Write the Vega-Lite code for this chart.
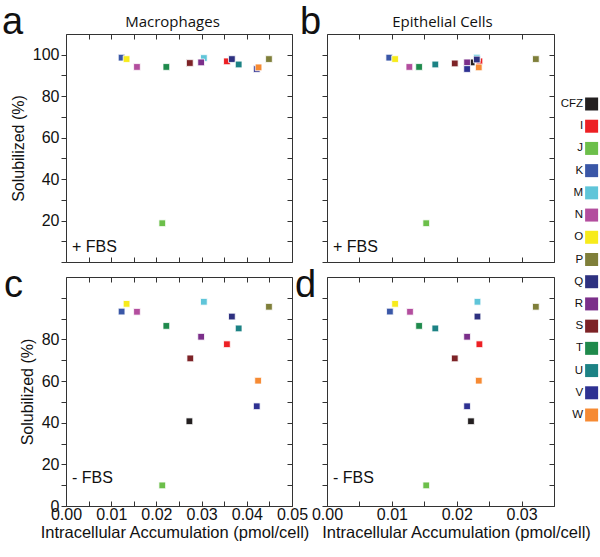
{
  "$schema": "https://vega.github.io/schema/vega-lite/v6.json",
  "padding": {"left": 2, "top": 3, "right": 0, "bottom": 0},
  "columns": 2,
  "spacing": {"row": 15, "column": 35},
  "bounds": "flush",
  "config": {
    "view": {"stroke": null},
    "axis": {"grid": false, "domainColor": "#333", "tickColor": "#333", "labelColor": "#111", "titleColor": "#111", "labelFont": "Liberation Sans", "titleFont": "Liberation Sans", "titleFontWeight": "normal", "labelOverlap": false, "labelFlush": false, "labelBound": false, "domainWidth": 1, "tickWidth": 1, "labelFontSize": 16, "titleFontSize": 16},
    "title": {"font": "Liberation Sans", "fontWeight": "normal", "fontSize": 38, "anchor": "start", "frame": "group", "color": "#111"}
  },
  "data": {"values": [
    {"panel": "a", "compound": "CFZ", "x": 0.0273, "y": 96.0},
    {"panel": "a", "compound": "I", "x": 0.0356, "y": 96.8},
    {"panel": "a", "compound": "J", "x": 0.0213, "y": 18.7},
    {"panel": "a", "compound": "K", "x": 0.0123, "y": 98.6},
    {"panel": "a", "compound": "M", "x": 0.0305, "y": 98.4},
    {"panel": "a", "compound": "N", "x": 0.0157, "y": 94.1},
    {"panel": "a", "compound": "O", "x": 0.0134, "y": 97.9},
    {"panel": "a", "compound": "P", "x": 0.0449, "y": 97.9},
    {"panel": "a", "compound": "Q", "x": 0.0367, "y": 97.9},
    {"panel": "a", "compound": "R", "x": 0.0299, "y": 96.3},
    {"panel": "a", "compound": "S", "x": 0.0274, "y": 96.0},
    {"panel": "a", "compound": "T", "x": 0.0222, "y": 94.1},
    {"panel": "a", "compound": "U", "x": 0.0382, "y": 95.3},
    {"panel": "a", "compound": "V", "x": 0.0422, "y": 93.1},
    {"panel": "a", "compound": "W", "x": 0.0426, "y": 93.9},
    {"panel": "b", "compound": "CFZ", "x": 0.0223, "y": 96.3},
    {"panel": "b", "compound": "I", "x": 0.0235, "y": 96.8},
    {"panel": "b", "compound": "J", "x": 0.0153, "y": 18.7},
    {"panel": "b", "compound": "K", "x": 0.0096, "y": 98.6},
    {"panel": "b", "compound": "M", "x": 0.0231, "y": 98.6},
    {"panel": "b", "compound": "N", "x": 0.0127, "y": 94.1},
    {"panel": "b", "compound": "O", "x": 0.0105, "y": 97.9},
    {"panel": "b", "compound": "P", "x": 0.0322, "y": 97.9},
    {"panel": "b", "compound": "Q", "x": 0.0231, "y": 97.7},
    {"panel": "b", "compound": "R", "x": 0.0216, "y": 96.3},
    {"panel": "b", "compound": "S", "x": 0.0197, "y": 95.8},
    {"panel": "b", "compound": "T", "x": 0.0142, "y": 94.1},
    {"panel": "b", "compound": "U", "x": 0.0167, "y": 95.3},
    {"panel": "b", "compound": "V", "x": 0.0216, "y": 93.1},
    {"panel": "b", "compound": "W", "x": 0.0234, "y": 93.9},
    {"panel": "c", "compound": "CFZ", "x": 0.0273, "y": 40.7},
    {"panel": "c", "compound": "I", "x": 0.0356, "y": 77.7},
    {"panel": "c", "compound": "J", "x": 0.0213, "y": 9.9},
    {"panel": "c", "compound": "K", "x": 0.0123, "y": 93.4},
    {"panel": "c", "compound": "M", "x": 0.0305, "y": 98.1},
    {"panel": "c", "compound": "N", "x": 0.0157, "y": 93.3},
    {"panel": "c", "compound": "O", "x": 0.0134, "y": 97.1},
    {"panel": "c", "compound": "P", "x": 0.0449, "y": 95.7},
    {"panel": "c", "compound": "Q", "x": 0.0367, "y": 91.0},
    {"panel": "c", "compound": "R", "x": 0.0299, "y": 81.3},
    {"panel": "c", "compound": "S", "x": 0.0275, "y": 70.9},
    {"panel": "c", "compound": "T", "x": 0.0222, "y": 86.5},
    {"panel": "c", "compound": "U", "x": 0.0382, "y": 85.3},
    {"panel": "c", "compound": "V", "x": 0.0422, "y": 47.9},
    {"panel": "c", "compound": "W", "x": 0.0425, "y": 60.2},
    {"panel": "d", "compound": "CFZ", "x": 0.0222, "y": 40.7},
    {"panel": "d", "compound": "I", "x": 0.0235, "y": 77.7},
    {"panel": "d", "compound": "J", "x": 0.0153, "y": 9.9},
    {"panel": "d", "compound": "K", "x": 0.0097, "y": 93.4},
    {"panel": "d", "compound": "M", "x": 0.0232, "y": 98.1},
    {"panel": "d", "compound": "N", "x": 0.0128, "y": 93.3},
    {"panel": "d", "compound": "O", "x": 0.0105, "y": 97.1},
    {"panel": "d", "compound": "P", "x": 0.0322, "y": 95.7},
    {"panel": "d", "compound": "Q", "x": 0.0232, "y": 91.0},
    {"panel": "d", "compound": "R", "x": 0.0216, "y": 81.3},
    {"panel": "d", "compound": "S", "x": 0.0197, "y": 70.9},
    {"panel": "d", "compound": "T", "x": 0.0142, "y": 86.5},
    {"panel": "d", "compound": "U", "x": 0.0167, "y": 85.3},
    {"panel": "d", "compound": "V", "x": 0.0216, "y": 47.9},
    {"panel": "d", "compound": "W", "x": 0.0234, "y": 60.2}
  ]},
  "concat": [
    {
      "width": 226, "height": 228,
      "title": {"text": "a", "dx": -64, "baseline": "alphabetic", "offset": 0, "dy": 57},
      "layer": [
        {
          "transform": [{"filter": "datum.panel == 'a'"}],
          "mark": {"type": "point", "shape": "square", "filled": true, "size": 45, "opacity": 1, "stroke": "white", "strokeWidth": 0.8},
          "encoding": {
            "x": {"field": "x", "type": "quantitative", "scale": {"domain": [0, 0.05], "nice": false, "zero": false}, "axis": {"orient": "bottom", "values": [0, 0.005, 0.01, 0.015, 0.02, 0.025, 0.03, 0.035, 0.04, 0.045, 0.05], "tickSize": -5, "labels": false, "title": null}},
            "y": {"field": "y", "type": "quantitative", "scale": {"domain": [0, 110], "nice": false}, "axis": {"orient": "left", "values": [0, 10, 20, 30, 40, 50, 60, 70, 80, 90, 100], "tickSize": 5, "labelPadding": 2, "labelExpr": "datum.value % 20 == 0 && datum.value > 0 ? datum.label : ''", "title": "Solubilized (%)", "titlePadding": 6}},
            "color": {"field": "compound", "type": "nominal", "legend": null, "scale": {"domain": ["CFZ", "I", "J", "K", "M", "N", "O", "P", "Q", "R", "S", "T", "U", "V", "W"], "range": ["#231f20", "#ed2024", "#6cbf4a", "#3a57a7", "#5fc5d9", "#b34e9e", "#f7eb1b", "#7f7f3a", "#2e3180", "#7b2f8a", "#7d2327", "#1f8a4c", "#1c8284", "#2e3192", "#f68a33"]}}
          }
        },
        {
          "data": {"values": [{"t": "+ FBS"}]},
          "mark": {"type": "text", "align": "left", "baseline": "middle", "fontSize": 16, "font": "Liberation Sans", "dx": 6, "color": "#111"},
          "encoding": {
            "x": {"datum": 0, "type": "quantitative", "scale": {"domain": [0, 0.05], "nice": false, "zero": false}, "axis": {"orient": "top", "values": [0, 0.005, 0.01, 0.015, 0.02, 0.025, 0.03, 0.035, 0.04, 0.045, 0.05], "tickSize": -5, "labels": false, "title": "Macrophages", "titleFont": "Open Sans", "titleFontSize": 15, "titlePadding": 4, "titleX": 106}},
            "y": {"datum": 7.2, "type": "quantitative", "scale": {"domain": [0, 110], "nice": false}, "axis": {"orient": "right", "values": [0, 10, 20, 30, 40, 50, 60, 70, 80, 90, 100], "tickSize": -5, "labels": false, "title": null}},
            "text": {"field": "t"}
          }
        }
      ],
      "resolve": {"axis": {"x": "independent", "y": "independent"}}
    },
    {
      "width": 227, "height": 228,
      "title": {"text": "b", "dx": -27, "baseline": "alphabetic", "offset": 0, "dy": 57},
      "layer": [
        {
          "transform": [{"filter": "datum.panel == 'b'"}],
          "mark": {"type": "point", "shape": "square", "filled": true, "size": 45, "opacity": 1, "stroke": "white", "strokeWidth": 0.8},
          "encoding": {
            "x": {"field": "x", "type": "quantitative", "scale": {"domain": [0, 0.035], "nice": false, "zero": false}, "axis": {"orient": "bottom", "values": [0, 0.005, 0.01, 0.015, 0.02, 0.025, 0.03, 0.035], "tickSize": -5, "labels": false, "title": null}},
            "y": {"field": "y", "type": "quantitative", "scale": {"domain": [0, 110], "nice": false}, "axis": {"orient": "left", "values": [0, 10, 20, 30, 40, 50, 60, 70, 80, 90, 100], "tickSize": 5, "labels": false, "title": null}},
            "color": {"field": "compound", "type": "nominal", "legend": null}
          }
        },
        {
          "data": {"values": [{"t": "+ FBS"}]},
          "mark": {"type": "text", "align": "left", "baseline": "middle", "fontSize": 16, "font": "Liberation Sans", "dx": 6, "color": "#111"},
          "encoding": {
            "x": {"datum": 0, "type": "quantitative", "scale": {"domain": [0, 0.035], "nice": false, "zero": false}, "axis": {"orient": "top", "values": [0, 0.005, 0.01, 0.015, 0.02, 0.025, 0.03, 0.035], "tickSize": -5, "labels": false, "title": "Epithelial Cells", "titleFont": "Open Sans", "titleFontSize": 15, "titlePadding": 4, "titleX": 115}},
            "y": {"datum": 7.2, "type": "quantitative", "scale": {"domain": [0, 110], "nice": false}, "axis": {"orient": "right", "values": [0, 10, 20, 30, 40, 50, 60, 70, 80, 90, 100], "tickSize": -5, "labels": false, "title": null}},
            "text": {"field": "t"}
          }
        },
        {
          "data": {"values": [
            {"compound": "CFZ"}, {"compound": "I"}, {"compound": "J"}, {"compound": "K"}, {"compound": "M"},
            {"compound": "N"}, {"compound": "O"}, {"compound": "P"}, {"compound": "Q"}, {"compound": "R"},
            {"compound": "S"}, {"compound": "T"}, {"compound": "U"}, {"compound": "V"}, {"compound": "W"}
          ]},
          "layer": [
            {
              "mark": {"type": "square", "size": 169, "opacity": 1},
              "encoding": {
                "x": {"datum": 0.0408, "type": "quantitative", "axis": null},
                "y": {"field": "compound", "type": "nominal", "sort": null, "scale": {"type": "point", "padding": 0, "range": [70, 381]}, "axis": null},
                "color": {"field": "compound", "type": "nominal", "legend": null}
              }
            },
            {
              "mark": {"type": "text", "align": "right", "baseline": "middle", "dx": -8.5, "fontSize": 11.5, "font": "Liberation Sans", "color": "#111"},
              "encoding": {
                "x": {"datum": 0.0408, "type": "quantitative", "axis": null},
                "y": {"field": "compound", "type": "nominal", "sort": null, "scale": {"type": "point", "padding": 0, "range": [70, 381]}, "axis": null},
                "text": {"field": "compound"}
              }
            }
          ]
        }
      ],
      "resolve": {"scale": {"y": "independent"}, "axis": {"x": "independent", "y": "independent"}}
    },
    {
      "width": 226, "height": 229,
      "title": {"text": "c", "dx": -62, "baseline": "alphabetic", "offset": 0, "dy": 58},
      "layer": [
        {
          "transform": [{"filter": "datum.panel == 'c'"}],
          "mark": {"type": "point", "shape": "square", "filled": true, "size": 45, "opacity": 1, "stroke": "white", "strokeWidth": 0.8},
          "encoding": {
            "x": {"field": "x", "type": "quantitative", "scale": {"domain": [0, 0.05], "nice": false, "zero": false}, "axis": {"orient": "bottom", "values": [0, 0.005, 0.01, 0.015, 0.02, 0.025, 0.03, 0.035, 0.04, 0.045, 0.05], "tickSize": -5, "labelPadding": 5, "labelExpr": "round(datum.value * 1000) % 10 == 0 ? format(datum.value, '.2f') : ''", "title": "Intracellular Accumulation (pmol/cell)", "titleFontSize": 16.5, "titlePadding": 2, "titleX": 108.5}},
            "y": {"field": "y", "type": "quantitative", "scale": {"domain": [0, 110], "nice": false}, "axis": {"orient": "left", "values": [0, 10, 20, 30, 40, 50, 60, 70, 80, 90, 100], "tickSize": 5, "labelPadding": 2, "labelExpr": "datum.value % 20 == 0 && datum.value <= 80 ? datum.label : ''", "title": "Solubilized (%)", "titlePadding": 6}},
            "color": {"field": "compound", "type": "nominal", "legend": null}
          }
        },
        {
          "data": {"values": [{"t": "- FBS"}]},
          "mark": {"type": "text", "align": "left", "baseline": "middle", "fontSize": 16, "font": "Liberation Sans", "dx": 6, "color": "#111"},
          "encoding": {
            "x": {"datum": 0, "type": "quantitative", "scale": {"domain": [0, 0.05], "nice": false, "zero": false}, "axis": {"orient": "top", "values": [0, 0.005, 0.01, 0.015, 0.02, 0.025, 0.03, 0.035, 0.04, 0.045, 0.05], "tickSize": -5, "labels": false, "title": null}},
            "y": {"datum": 13.4, "type": "quantitative", "scale": {"domain": [0, 110], "nice": false}, "axis": {"orient": "right", "values": [0, 10, 20, 30, 40, 50, 60, 70, 80, 90, 100], "tickSize": -5, "labels": false, "title": null}},
            "text": {"field": "t"}
          }
        }
      ],
      "resolve": {"axis": {"x": "independent", "y": "independent"}}
    },
    {
      "width": 227, "height": 229,
      "title": {"text": "d", "dx": -32, "baseline": "alphabetic", "offset": 0, "dy": 58},
      "layer": [
        {
          "transform": [{"filter": "datum.panel == 'd'"}],
          "mark": {"type": "point", "shape": "square", "filled": true, "size": 45, "opacity": 1, "stroke": "white", "strokeWidth": 0.8},
          "encoding": {
            "x": {"field": "x", "type": "quantitative", "scale": {"domain": [0, 0.035], "nice": false, "zero": false}, "axis": {"orient": "bottom", "values": [0, 0.005, 0.01, 0.015, 0.02, 0.025, 0.03, 0.035], "tickSize": -5, "labelPadding": 5, "labelExpr": "round(datum.value * 1000) % 10 == 0 ? format(datum.value, '.2f') : ''", "title": "Intracellular Accumulation (pmol/cell)", "titleFontSize": 16.5, "titlePadding": 2, "titleX": 129}},
            "y": {"field": "y", "type": "quantitative", "scale": {"domain": [0, 110], "nice": false}, "axis": {"orient": "left", "values": [0, 10, 20, 30, 40, 50, 60, 70, 80, 90, 100], "tickSize": 5, "labels": false, "title": null}},
            "color": {"field": "compound", "type": "nominal", "legend": null}
          }
        },
        {
          "data": {"values": [{"t": "- FBS"}]},
          "mark": {"type": "text", "align": "left", "baseline": "middle", "fontSize": 16, "font": "Liberation Sans", "dx": 6, "color": "#111"},
          "encoding": {
            "x": {"datum": 0, "type": "quantitative", "scale": {"domain": [0, 0.035], "nice": false, "zero": false}, "axis": {"orient": "top", "values": [0, 0.005, 0.01, 0.015, 0.02, 0.025, 0.03, 0.035], "tickSize": -5, "labels": false, "title": null}},
            "y": {"datum": 13.4, "type": "quantitative", "scale": {"domain": [0, 110], "nice": false}, "axis": {"orient": "right", "values": [0, 10, 20, 30, 40, 50, 60, 70, 80, 90, 100], "tickSize": -5, "labels": false, "title": null}},
            "text": {"field": "t"}
          }
        }
      ],
      "resolve": {"axis": {"x": "independent", "y": "independent"}}
    }
  ]
}
